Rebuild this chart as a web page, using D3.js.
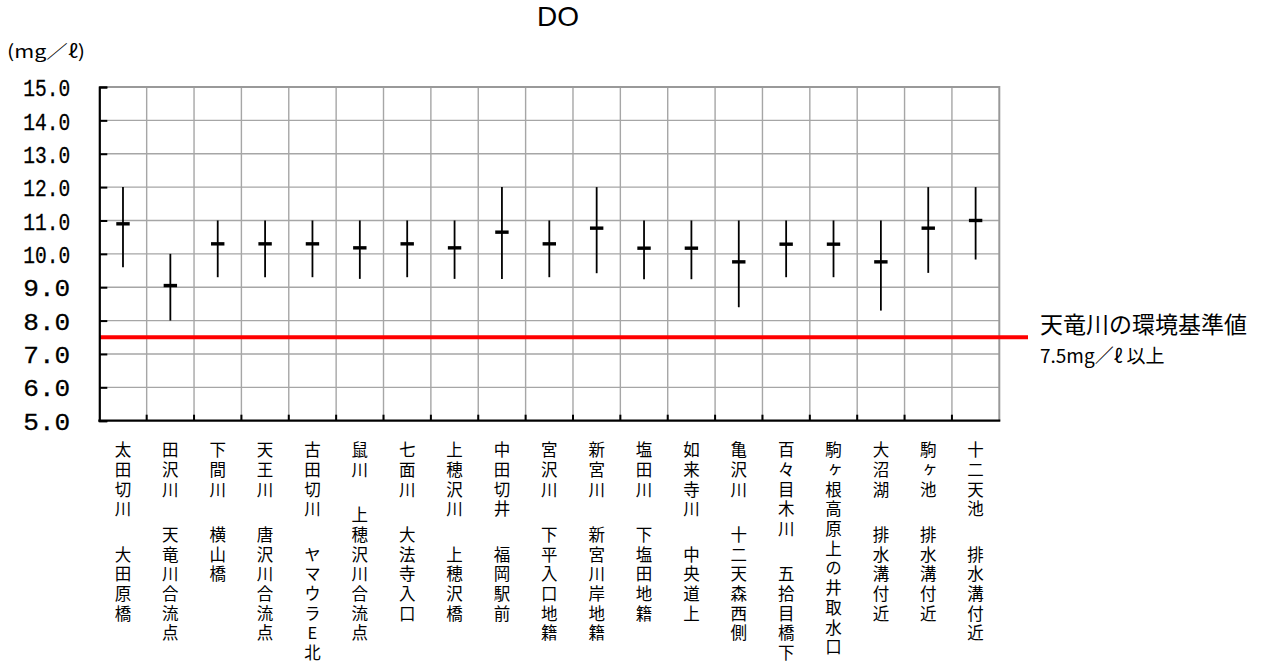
<!DOCTYPE html>
<html>
<head>
<meta charset="utf-8">
<script src="https://cdn.jsdelivr.net/npm/d3@7"></script>
<style>
  body { margin: 0; background: #fff; }
  text { font-family: "Noto Sans CJK JP", sans-serif; fill: #000; }
</style>
</head>
<body>
<script>
var width = 1265, height = 666;

// sampling sites (upper line = river, lower line = point)
var sites = [
  "太田切川\n大田原橋", "田沢川\n天竜川合流点", "下間川\n横山橋", "天王川\n唐沢川合流点",
  "古田切川\nヤマウラE北", "鼠川\n上穂沢川合流点", "七面川\n大法寺入口", "上穂沢川\n上穂沢橋",
  "中田切井\n福岡駅前", "宮沢川\n下平入口地籍", "新宮川\n新宮川岸地籍", "塩田川\n下塩田地籍",
  "如来寺川\n中央道上", "亀沢川\n十二天森西側", "百々目木川\n五拾目橋下", "駒ヶ根高原上の井取水口",
  "大沼湖\n排水溝付近", "駒ヶ池\n排水溝付近", "十二天池\n排水溝付近"
];
var maxVals  = [12.0, 10.0, 11.0, 11.0, 11.0, 11.0, 11.0, 11.0, 12.0, 11.0, 12.0, 11.0, 11.0, 11.0, 11.0, 11.0, 11.0, 12.0, 12.0];
var minVals  = [9.6, 8.0, 9.3, 9.3, 9.3, 9.25, 9.3, 9.25, 9.25, 9.3, 9.42, 9.24, 9.24, 8.4, 9.3, 9.3, 8.3, 9.43, 9.83];
var meanVals = [10.9, 9.05, 10.3, 10.3, 10.3, 10.18, 10.3, 10.18, 10.65, 10.3, 10.77, 10.17, 10.17, 9.76, 10.29, 10.29, 9.76, 10.77, 11.0];
var yTicks = [5, 6, 7, 8, 9, 10, 11, 12, 13, 14, 15];
var standard = 7.5;

var svg = d3.select("body").append("svg")
    .attr("width", width)
    .attr("height", height);

var x = d3.scaleBand().domain(d3.range(sites.length)).range([99.3, 999.3]).padding(0);
var y = d3.scaleLinear().domain([5, 15]).range([420.7, 87]);

var left = x.range()[0], right = x.range()[1];

// grid
var grid = svg.append("g");
grid.selectAll(".hg").data(yTicks.slice(1, -1)).enter().append("line")
    .attr("x1", left).attr("x2", right)
    .attr("y1", function(d){ return y(d); }).attr("y2", function(d){ return y(d); })
    .style("stroke", "#a6a6a6").style("stroke-width", 1.4);
grid.selectAll(".vg").data(d3.range(1, sites.length)).enter().append("line")
    .attr("x1", function(i){ return x(i); }).attr("x2", function(i){ return x(i); })
    .attr("y1", y(15)).attr("y2", y(5))
    .style("stroke", "#a6a6a6").style("stroke-width", 1.4);
// top / right border
grid.append("path")
    .attr("d", "M" + left + "," + y(15) + "H" + right + "V" + y(5))
    .style("fill", "none").style("stroke", "#999").style("stroke-width", 2);

// standard line
svg.append("line")
    .attr("x1", left).attr("x2", 1028)
    .attr("y1", y(standard)).attr("y2", y(standard))
    .style("stroke", "#ff0000").style("stroke-width", 4);

// y axis
var yAxis = svg.append("g")
    .attr("transform", "translate(" + left + ",0)")
    .call(d3.axisLeft(y).tickValues(yTicks).tickSize(-8).tickPadding(29).tickFormat(d3.format(".1f")));
yAxis.select(".domain").style("stroke", "#000").style("stroke-width", 2.2);
yAxis.selectAll(".tick line").style("stroke", "#000").style("stroke-width", 2);
yAxis.selectAll(".tick text")
    .style("font-family", "'Liberation Mono', monospace")
    .style("font-size", "24px")
    .style("stroke", "#000").style("stroke-width", 0.3)
    .attr("textLength", 47).attr("lengthAdjust", "spacingAndGlyphs")
    .attr("dy", "0.36em");

// x axis line with inside ticks at category borders
var xAxis = svg.append("g");
xAxis.append("line")
    .attr("x1", left - 1).attr("x2", right + 1)
    .attr("y1", y(5)).attr("y2", y(5))
    .style("stroke", "#000").style("stroke-width", 2.2);
xAxis.selectAll(".xt").data(d3.range(1, sites.length)).enter().append("line")
    .attr("x1", function(i){ return x(i); }).attr("x2", function(i){ return x(i); })
    .attr("y1", y(5)).attr("y2", y(5) - 6)
    .style("stroke", "#000").style("stroke-width", 2);

// vertical category labels (one vertical text per line of the label)
var rowStep = 19.7, labelTop = 450, fs = 16.5;
sites.forEach(function(s, i){
    var cx = x(i) + x.bandwidth() / 2;
    var parts = s.split("\n");
    var row = 0;
    parts.forEach(function(p, k){
        if (k > 0) row += 1.3;
        svg.append("text")
            .attr("x", cx)
            .attr("y", labelTop + row * rowStep - fs / 2)
            .style("writing-mode", "vertical-rl")
            .style("text-orientation", "upright")
            .style("font-size", fs + "px")
            .style("letter-spacing", (rowStep - fs) + "px")
            .text(p);
        row += Array.from(p).length;
    });
});

// min-max whiskers and mean marks
var bars = svg.append("g");
bars.selectAll(".wh").data(d3.range(sites.length)).enter().append("line")
    .attr("x1", function(i){ return x(i) + x.bandwidth() / 2; })
    .attr("x2", function(i){ return x(i) + x.bandwidth() / 2; })
    .attr("y1", function(i){ return y(maxVals[i]); })
    .attr("y2", function(i){ return y(minVals[i]); })
    .style("stroke", "#000").style("stroke-width", 1.8);
bars.selectAll(".mn").data(d3.range(sites.length)).enter().append("rect")
    .attr("x", function(i){ return x(i) + x.bandwidth() / 2 - 6.7; })
    .attr("y", function(i){ return y(meanVals[i]) - 1.7; })
    .attr("width", 13.4).attr("height", 3.4)
    .style("fill", "#000");

// title, unit, legend text
svg.append("text")
    .attr("x", 558).attr("y", 16).attr("text-anchor", "middle").attr("dominant-baseline", "central")
    .style("font-family", "'Liberation Sans', Arial, sans-serif").style("font-size", "28px")
    .text("DO");
svg.append("text")
    .attr("x", 7).attr("y", 50).attr("dominant-baseline", "central")
    .attr("textLength", 78).attr("lengthAdjust", "spacingAndGlyphs")
    .style("font-size", "18px")
    .text("(mg／ℓ)");
svg.append("text")
    .attr("x", 1040).attr("y", 323).attr("dominant-baseline", "central")
    .style("font-size", "23px")
    .text("天竜川の環境基準値");
svg.append("text")
    .attr("x", 1040).attr("y", 354).attr("dominant-baseline", "central")
    .style("font-size", "19px")
    .text("7.5mg／ℓ 以上");
</script>
</body>
</html>
